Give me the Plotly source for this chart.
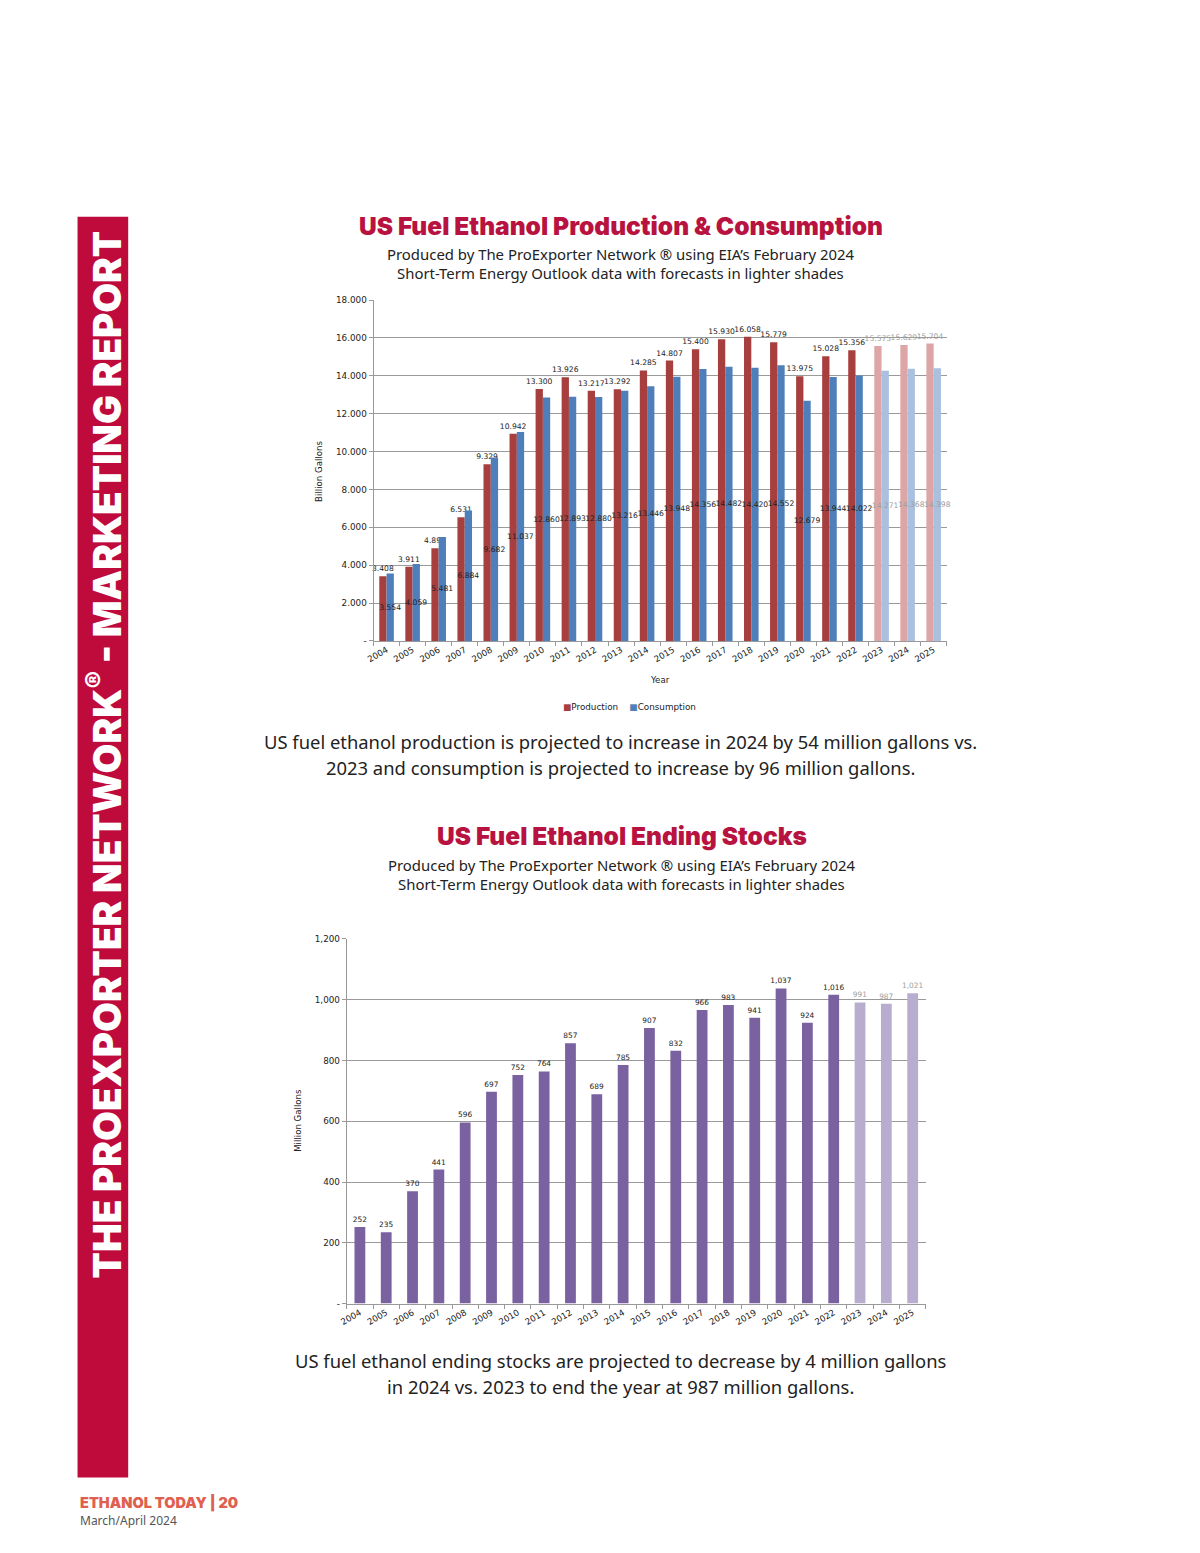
import plotly.graph_objects as go

# ---------------- data ----------------
years = [str(y) for y in range(2004, 2026)]
forecast_years = ["2023", "2024", "2025"]

production = [3.408, 3.911, 4.894, 6.531, 9.329, 10.942, 13.300, 13.926, 13.217, 13.292,
              14.285, 14.807, 15.400, 15.930, 16.058, 15.779, 13.975, 15.028, 15.356,
              15.575, 15.629, 15.704]
consumption = [3.554, 4.059, 5.481, 6.884, 9.682, 11.037, 12.860, 12.893, 12.880, 13.216,
               13.446, 13.948, 14.356, 14.482, 14.420, 14.552, 12.679, 13.944, 14.022,
               14.271, 14.368, 14.398]
stocks = [252, 235, 370, 441, 596, 697, 752, 764, 857, 689, 785, 907, 832, 966, 983, 941,
          1037, 924, 1016, 991, 987, 1021]

y1_ticks = [0, 2, 4, 6, 8, 10, 12, 14, 16, 18]
y1_ticktext = ["-", "2.000", "4.000", "6.000", "8.000", "10.000", "12.000", "14.000", "16.000", "18.000"]
y2_ticks = [0, 200, 400, 600, 800, 1000, 1200]
y2_ticktext = ["-", "200", "400", "600", "800", "1,000", "1,200"]

# ---------------- helpers ----------------
W, H = 1200, 1553
def px(x):
    return x / W
def py(y):
    return 1 - y / H

is_fc = [y in forecast_years for y in years]
PROD = "#A73F3E"
PROD_L = "#DDA6A6"
CONS = "#4F7FBA"
CONS_L = "#AAC0DE"
STK = "#7A61A0"
STK_L = "#B9ADCF"
LBL = "#222222"
LBL_L = "#9E9E9E"
CRIMSON = "#B81340"
GRID = "#9A9A9A"
TICKF = "DejaVu Sans"

fig = go.Figure()

fig.add_trace(go.Bar(
    x=years, y=production, name="Production",
    marker=dict(color=[PROD_L if f else PROD for f in is_fc], line=dict(width=0)),
    text=[f"{v:.3f}" for v in production], textposition="outside", textangle=0,
    constraintext="none", cliponaxis=False,
    textfont=dict(family=TICKF, size=7.6, color=[LBL_L if f else LBL for f in is_fc]),
    xaxis="x", yaxis="y", hoverinfo="x+y",
))
fig.add_trace(go.Bar(
    x=years, y=consumption, name="Consumption",
    marker=dict(color=[CONS_L if f else CONS for f in is_fc], line=dict(width=0)),
    text=[f"{v:.3f}" for v in consumption], textposition="inside", textangle=0,
    insidetextanchor="middle", constraintext="none", cliponaxis=False,
    insidetextfont=dict(family=TICKF, size=7.6, color=[LBL_L if f else LBL for f in is_fc]),
    xaxis="x", yaxis="y", hoverinfo="x+y",
))
fig.add_trace(go.Bar(
    x=years, y=stocks, name="Ending Stocks", width=0.41,
    marker=dict(color=[STK_L if f else STK for f in is_fc], line=dict(width=0)),
    text=[f"{v:,}" for v in stocks], textposition="outside", textangle=0,
    constraintext="none", cliponaxis=False,
    textfont=dict(family=TICKF, size=7.4, color=[LBL_L if f else LBL for f in is_fc]),
    xaxis="x2", yaxis="y2", hoverinfo="x+y",
))

common_x = dict(type="category", tickson="boundaries", ticks="outside", ticklen=4,
                tickcolor="#999999", showline=True, linecolor="#999999", linewidth=1,
                tickangle=-30, tickfont=dict(family=TICKF, size=8.6, color="#222"),
                showgrid=False, fixedrange=True)
common_y = dict(showgrid=True, gridcolor=GRID, gridwidth=1, showline=True,
                linecolor="#999999", ticks="outside", ticklen=4, tickcolor="#999999",
                tickfont=dict(family=TICKF, size=8.8, color="#222"), zeroline=False,
                tickmode="array", fixedrange=True)

annotations = []
def ann(text, x, y, size, color="#222", family="Noto Sans", weight=None,
        xanchor="center", yanchor="middle", angle=0):
    f = dict(family=family, size=size, color=color)
    if weight is not None:
        f["weight"] = weight
    annotations.append(dict(text=text, x=px(x), y=py(y), xref="paper", yref="paper",
                            showarrow=False, font=f, xanchor=xanchor, yanchor=yanchor,
                            textangle=angle))

# Titles and texts
ann("US Fuel Ethanol Production &amp; Consumption", 617, 222, 24.5, CRIMSON, "Inter", 900)
ann("Produced by The ProExporter Network ® using EIA’s February 2024", 617, 251, 14.9, "#222")
ann("Short-Term Energy Outlook data with forecasts in lighter shades", 617, 270, 14.9, "#222")
ann("US fuel ethanol production is projected to increase in 2024 by 54 million gallons vs.",
    617, 741, 18.4, "#222")
ann("2023 and consumption is projected to increase by 96 million gallons.", 617, 767, 18.4, "#222")

ann("US Fuel Ethanol Ending Stocks", 618, 836, 24.5, CRIMSON, "Inter", 900)
ann("Produced by The ProExporter Network ® using EIA’s February 2024", 618, 866, 14.9, "#222")
ann("Short-Term Energy Outlook data with forecasts in lighter shades", 618, 885, 14.9, "#222")
ann("US fuel ethanol ending stocks are projected to decrease by 4 million gallons",
    617, 1364, 18.4, "#222")
ann("in 2024 vs. 2023 to end the year at 987 million gallons.", 617, 1390, 18.4, "#222")

# axis titles
ann("Billion Gallons", 313, 469, 8.6, "#222", TICKF, angle=-90)
ann("Year", 656, 679, 8.6, "#222", TICKF)
ann("Million Gallons", 292, 1123, 8.6, "#222", TICKF, angle=-90)

# legend (compact, as in the reference)
ann(f"<span style='color:{PROD}'>■</span>Production    <span style='color:{CONS}'>■</span>Consumption",
    626, 707, 8.8, "#222", TICKF)

# sidebar
ann("THE PROEXPORTER NETWORK<sup>®</sup> - MARKETING REPORT", 97, 754, 38.5, "white",
    "Inter", 900, angle=-90)

# footer
ann("ETHANOL TODAY | 20", 70, 1508, 14.5, "#E0604F", "Inter", 900, xanchor="left")
ann("March/April 2024", 70, 1525, 12, "#555555", "Noto Sans", xanchor="left")

shapes = [dict(type="rect", xref="paper", yref="paper", x0=px(70), x1=px(121),
               y0=py(1482), y1=py(213), fillcolor="#BE0B3C", line=dict(width=0), layer="below")]

fig.update_layout(
    autosize=True, margin=dict(l=0, r=0, t=0, b=0),
    paper_bgcolor="white", plot_bgcolor="white",
    barmode="group", bargap=0.44, bargroupgap=0,
    xaxis=dict(domain=[px(368), px(945)], anchor="y", **common_x),
    yaxis=dict(domain=[py(640), py(297)], anchor="x", range=[0, 18],
               tickvals=y1_ticks, ticktext=y1_ticktext, **common_y),
    xaxis2=dict(domain=[px(341), px(924)], anchor="y2", **common_x),
    yaxis2=dict(domain=[py(1307), py(940)], anchor="x2", range=[0, 1200],
                tickvals=y2_ticks, ticktext=y2_ticktext, **common_y),
    annotations=annotations, shapes=shapes,
    showlegend=False,
)

# the figure div is pinned to the window's top-left corner at exactly the window size
fig.write_html("out.html", config={"displayModeBar": False},
               default_width=f"{W}px", default_height=f"{H}px;position:fixed;top:0;left:0")
